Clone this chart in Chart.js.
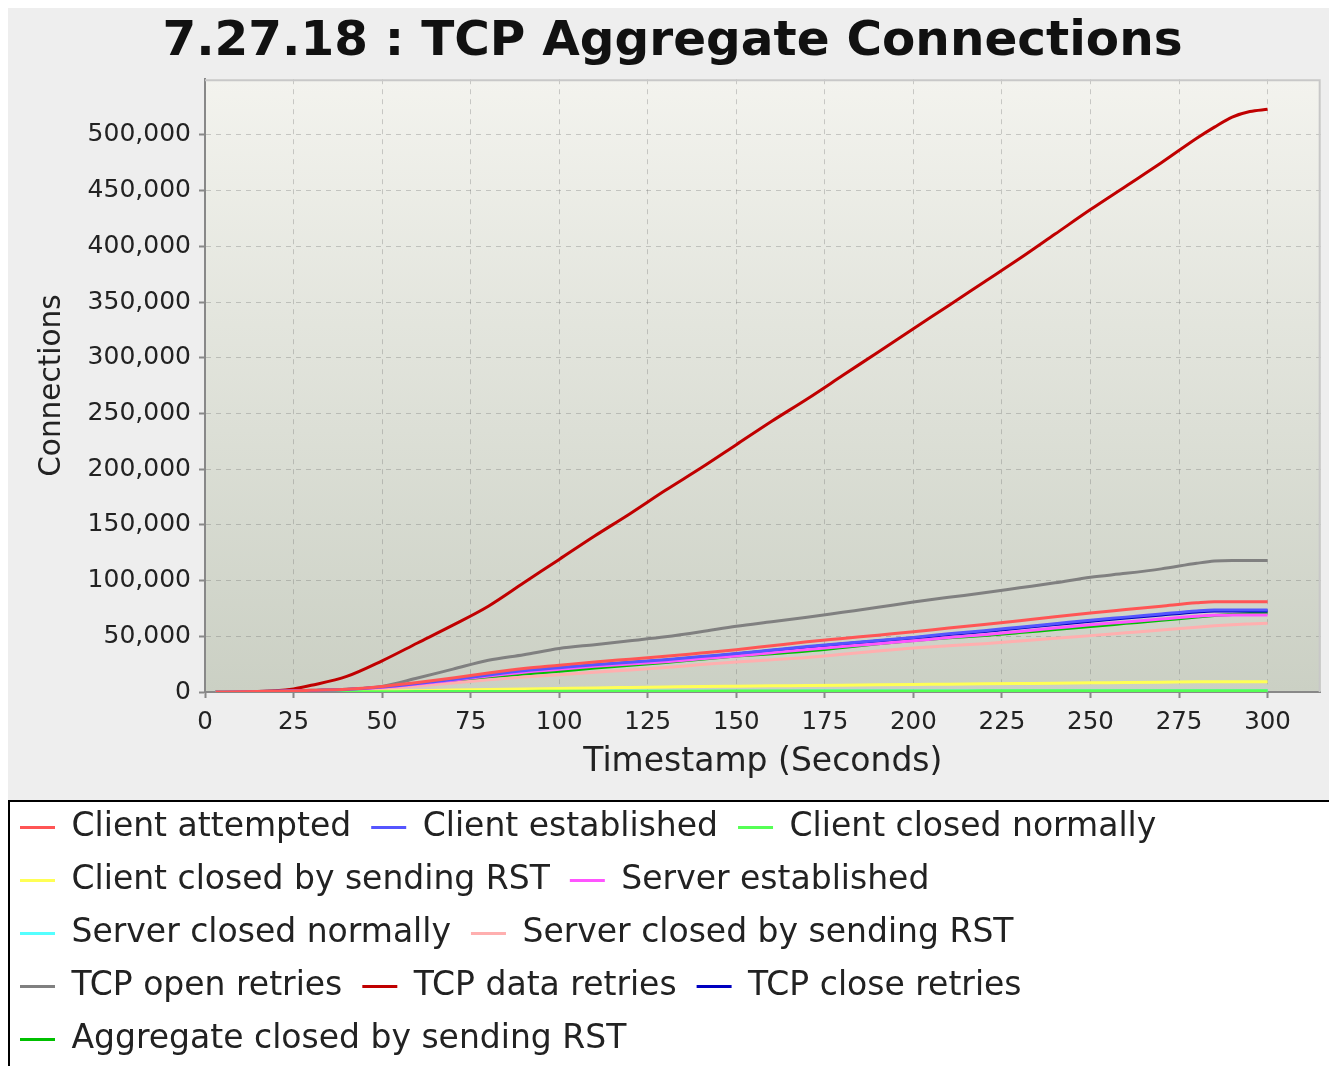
<!DOCTYPE html>
<html><head><meta charset="utf-8">
<script src="https://cdn.jsdelivr.net/npm/chart.js@4.4.0/dist/chart.umd.min.js"></script>
<style>
html,body{margin:0;padding:0;background:#fff;overflow:hidden;width:1329px;height:1066px;}
#wrap{position:absolute;left:0;top:0;width:1345px;height:1066px;}
</style></head><body>
<div id="wrap"><canvas id="c" width="1345" height="1066"></canvas></div>
<script>
const chartTitle = '7.27.18 : TCP Aggregate Connections';
const xTitle = 'Timestamp (Seconds)';
const yTitle = 'Connections';
const xTicks = [0,25,50,75,100,125,150,175,200,225,250,275,300];
const yTicks = [0,50000,100000,150000,200000,250000,300000,350000,400000,450000,500000];

const timestamps = [3,10,20,25,30,40,50,60,70,80,90,100,110,120,130,140,150,160,170,180,190,200,210,220,230,240,250,260,270,280,285,290,295,300];

const clientAttempted = [0,200,700,1000,1500,2500,5000,8500,12500,17000,21000,24000,27000,29500,32000,35000,38000,41500,45000,48000,51000,54000,57500,60500,64000,67500,71000,74000,77000,80000,81000,81000,81000,81000];
const clientEstablished = [0,150,600,900,1300,2200,4400,7600,11300,15300,19000,21800,24500,26800,29000,31800,34500,37700,40800,43600,46300,49000,52200,55000,58200,61300,64500,67200,70000,72700,73600,73700,73700,73700];
const clientClosedNormally = [0,0,50,80,120,200,300,380,450,500,550,600,640,680,720,760,800,830,860,890,920,950,980,1010,1040,1070,1100,1130,1160,1190,1200,1200,1200,1200];
const clientClosedRst = [0,0,0,50,100,300,700,1200,1700,2200,2700,3200,3700,4100,4500,4900,5200,5500,5800,6100,6400,6700,7000,7300,7600,7900,8200,8500,8800,9100,9200,9250,9300,9300];
const serverEstablished = [0,150,550,850,1200,2100,4200,7200,10600,14400,17800,20400,23000,25100,27200,29800,32300,35300,38200,40800,43400,45900,48900,51400,54400,57400,60400,62900,65500,68000,68900,69000,69100,69100];
const serverClosedNormally = [0,0,40,70,100,180,270,340,400,450,500,540,580,620,660,700,730,760,790,820,850,880,910,940,970,1000,1030,1060,1090,1110,1120,1120,1120,1120];
const serverClosedRst = [0,100,400,600,900,1500,3000,5300,8000,11000,13500,15500,17800,19800,22000,24600,27000,28900,31000,33800,36800,39500,41600,43400,45700,48200,50600,53100,55600,58200,59400,60400,61100,61700];
const tcpOpenRetries = [0,200,600,1000,1500,2500,5000,12500,20500,28500,33500,39000,42500,46000,49500,54000,59000,63000,67000,71500,76000,80800,85000,89000,93500,98000,103000,106500,110500,115500,117500,118000,118000,118000];
const tcpDataRetries = [0,300,1200,2800,6000,14000,28000,44000,60000,77000,98000,119000,140000,160000,181000,201000,222000,243000,263000,284000,305000,326000,347000,368000,389000,411000,433000,454000,475000,497000,507000,516000,521000,523000];
const tcpCloseRetries = [0,150,550,850,1250,2100,4300,7400,11000,15000,18600,21400,24100,26400,28600,31300,34000,37200,40200,43000,45700,48400,51500,54300,57400,60500,63600,66300,69100,71800,72700,72800,72800,72800];
const aggregateClosedRst = [0,100,400,650,1000,1800,3700,6500,9700,13200,16200,18700,21500,23900,26500,29500,32200,34400,36800,39900,43200,46200,48600,50700,53300,56100,58800,61600,64400,67300,68600,69650,70400,71000];

const seriesNames = ['Client attempted','Client established','Client closed normally','Client closed by sending RST','Server established','Server closed normally','Server closed by sending RST','TCP open retries','TCP data retries','TCP close retries','Aggregate closed by sending RST'];
const seriesValues = [clientAttempted,clientEstablished,clientClosedNormally,clientClosedRst,serverEstablished,serverClosedNormally,serverClosedRst,tcpOpenRetries,tcpDataRetries,tcpCloseRetries,aggregateClosedRst];
const seriesColors = ['#ff5555','#5555ff','#55ff55','#ffff55','#ff55ff','#55ffff','#ffafaf','#808080','#c00000','#0000c0','#00c000'];

const FONT = "'DejaVu Sans', sans-serif";

const bgPlugin = {
  id: 'bg',
  beforeDraw(chart) {
    const {ctx, chartArea: a, width, height} = chart;
    ctx.save();
    ctx.fillStyle = '#ffffff';
    ctx.fillRect(0, 0, width, height);
    ctx.fillStyle = '#eeeeee';
    ctx.fillRect(8, 8, width - 8, height - 8);
    const boxTop = chart.legend.top + 10;
    ctx.fillStyle = '#ffffff';
    ctx.fillRect(9, boxTop, width, height);
    ctx.strokeStyle = '#000000';
    ctx.lineWidth = 2;
    ctx.strokeRect(9, boxTop, width + 20, height + 20);
    const g = ctx.createLinearGradient(0, a.top, 0, a.bottom);
    g.addColorStop(0, '#f3f3ee');
    g.addColorStop(1, '#cbd0c4');
    ctx.fillStyle = g;
    ctx.fillRect(a.left, a.top, a.right - a.left, a.bottom - a.top);
    ctx.restore();
  },
  beforeDatasetsDraw(chart) {
    const {ctx, chartArea: a} = chart;
    ctx.save();
    ctx.strokeStyle = '#c8c8c8';
    ctx.lineWidth = 2;
    ctx.beginPath();
    ctx.moveTo(a.left, a.top + 1);
    ctx.lineTo(a.right - 1, a.top + 1);
    ctx.lineTo(a.right - 1, a.bottom);
    ctx.stroke();
    ctx.restore();
  }
};

const datasets = seriesNames.map((name, k) => ({
  label: name,
  data: seriesValues[k].map((v, i) => ({x: timestamps[i], y: v})),
  borderColor: seriesColors[k],
  backgroundColor: seriesColors[k],
  borderWidth: 3,
  pointRadius: 0,
  fill: false,
  cubicInterpolationMode: 'monotone'
}));

new Chart(document.getElementById('c'), {
  type: 'line',
  data: {datasets},
  plugins: [bgPlugin],
  options: {
    responsive: false,
    devicePixelRatio: 1,
    animation: false,
    layout: {padding: {left: 0, right: 0, top: 0, bottom: 0}},
    plugins: {
      tooltip: {enabled: false},
      title: {
        display: true,
        text: chartTitle,
        color: '#111',
        font: {family: FONT, size: 48.5, weight: 'bold'},
        padding: {top: 13, bottom: 8}
      },
      legend: {
        position: 'bottom',
        align: 'start',
        labels: {
          usePointStyle: true,
          pointStyle: 'line',
          pointStyleWidth: 35,
          padding: 20,
          color: '#222',
          font: {family: FONT, size: 33}
        }
      }
    },
    scales: {
      x: {
        type: 'linear',
        min: 0, max: 315,
        afterBuildTicks: s => { s.ticks = xTicks.map(v => ({value: v})); },
        afterFit: s => { s.height = 99; s.paddingRight = 24.3; },
        ticks: {stepSize: 25, autoSkip: false, maxRotation: 0, padding: 10, color: '#222', font: {family: FONT, size: 24.5}},
        grid: {color: 'rgba(110,110,110,0.32)', lineWidth: 1, tickLength: 6, tickColor: '#888', tickWidth: 2},
        border: {display: true, color: '#888', width: 2, dash: [5,5]},
        title: {display: true, text: xTitle, color: '#222', font: {family: FONT, size: 33}, padding: {top: 0, bottom: 9}}
      },
      y: {
        min: 0, max: 550000,
        afterBuildTicks: s => { s.ticks = yTicks.map(v => ({value: v})); },
        afterFit: s => { s.width = 205; },
        ticks: {stepSize: 50000, padding: 8, color: '#222', font: {family: FONT, size: 25},
          callback: v => Number(v).toLocaleString('en-US')},
        grid: {color: 'rgba(110,110,110,0.32)', lineWidth: 1, tickLength: 6, tickColor: '#888', tickWidth: 2},
        border: {display: true, color: '#888', width: 2, dash: [5,5]},
        title: {display: true, text: yTitle, color: '#222', font: {family: FONT, size: 29.5}, padding: {top: 35, bottom: 0}}
      }
    }
  }
});
</script>
</body></html>
